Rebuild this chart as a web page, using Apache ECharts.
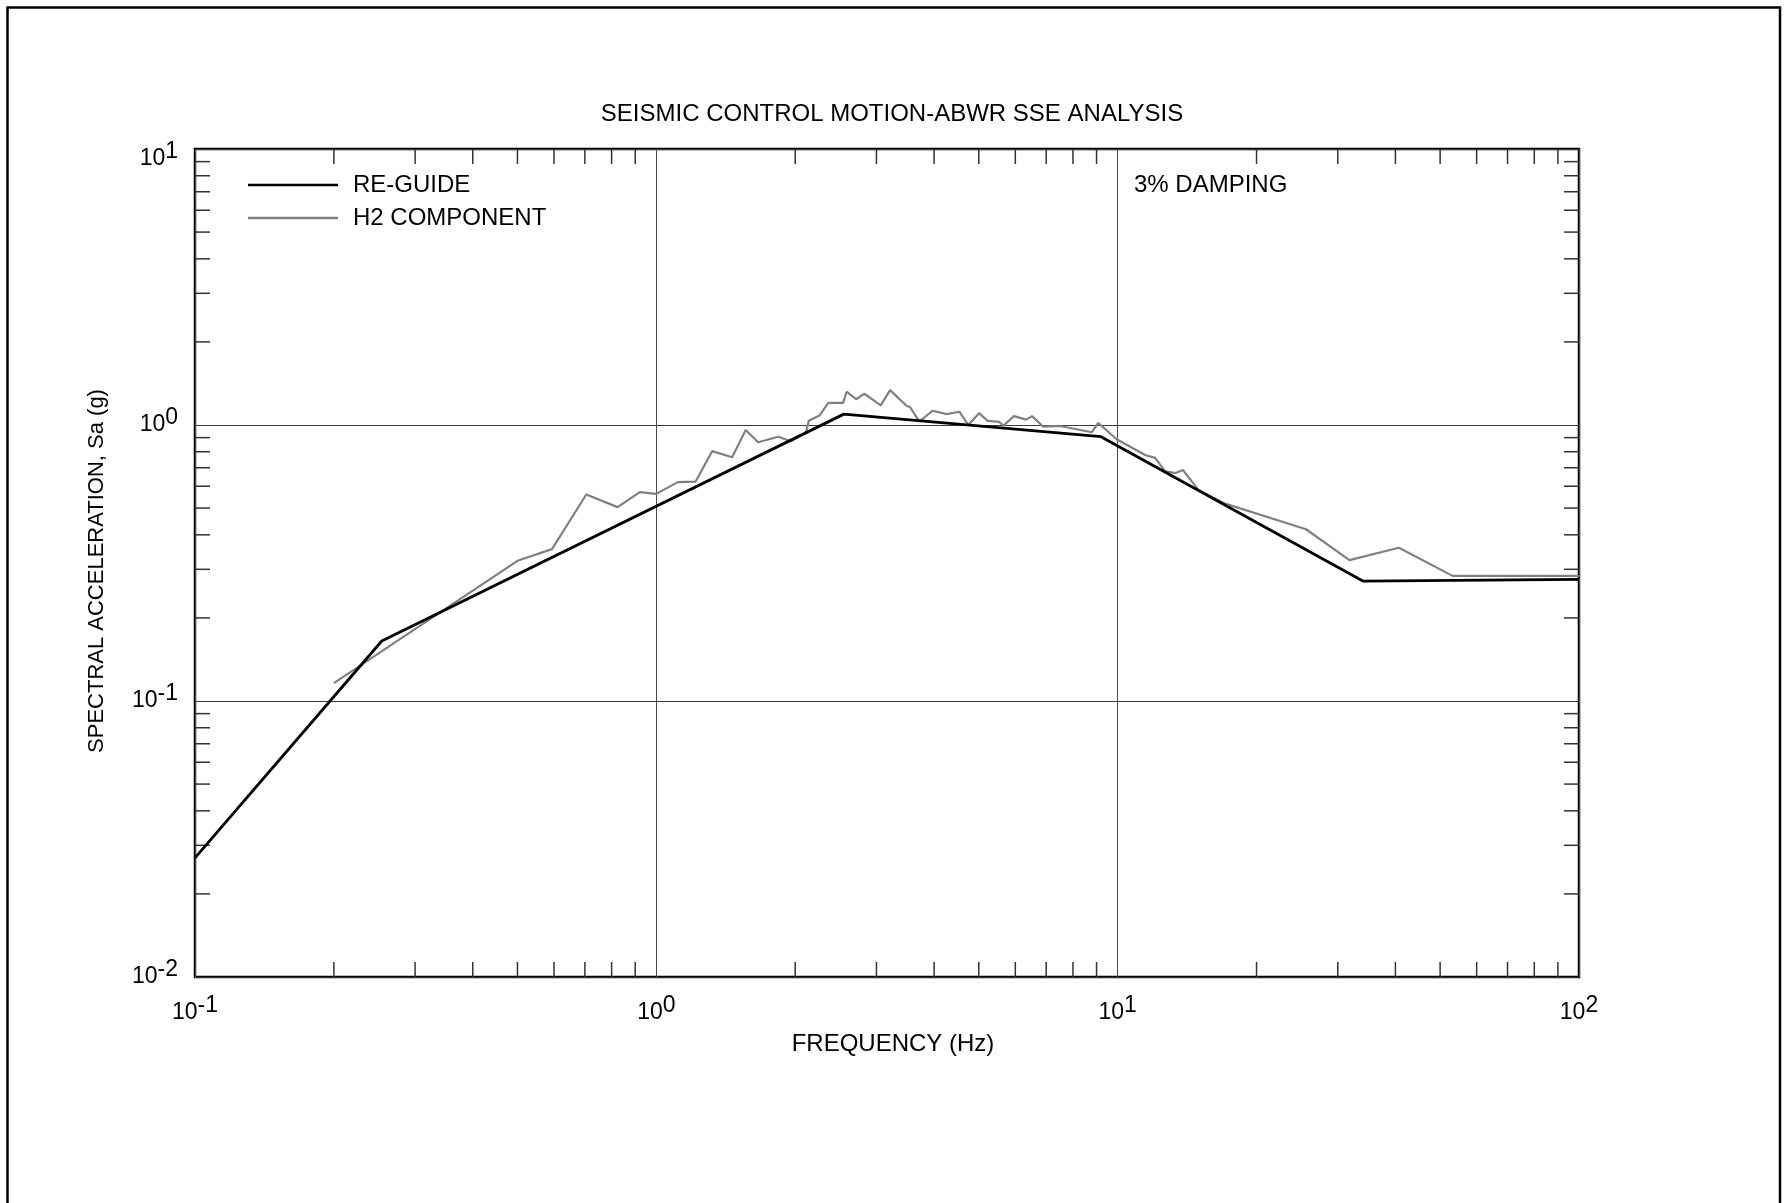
<!DOCTYPE html>
<html>
<head>
<meta charset="utf-8">
<title>Seismic Control Motion - ABWR SSE Analysis</title>
<script src="https://cdn.jsdelivr.net/npm/echarts@6/dist/echarts.min.js"></script>
<style>
  html, body { margin: 0; padding: 0; background: #fff; }
  #chart { width: 1784px; height: 1203px; }
</style>
</head>
<body>
<div id="chart"></div>
<script>
// ---- Spectrum data (3% damping): frequency in Hz, spectral acceleration in g ----
const reGuideFreq = [0.1, 0.254, 2.55, 9.2, 34, 100];
const reGuideSa   = [0.027, 0.165, 1.095, 0.907, 0.272, 0.276];

const h2Freq = [0.2, 0.5, 0.594, 0.705, 0.824, 0.921, 1.0, 1.113, 1.217, 1.321,
                1.46, 1.562, 1.662, 1.838, 1.956, 2.11, 2.14, 2.257, 2.359, 2.54,
                2.585, 2.71, 2.824, 3.065, 3.211, 3.489, 3.548, 3.717, 3.966, 4.261,
                4.538, 4.746, 5.006, 5.228, 5.539, 5.65, 5.96, 6.33, 6.52, 6.90,
                7.50, 8.785, 9.08, 9.95, 11.47, 12.05, 12.67, 13.32, 13.85, 14.96,
                17.1, 25.6, 31.8, 40.7, 53.2, 100];
const h2Sa   = [0.116, 0.322, 0.355, 0.56, 0.504, 0.571, 0.563, 0.621, 0.624, 0.804,
                0.764, 0.959, 0.866, 0.907, 0.873, 0.94, 1.037, 1.082, 1.202, 1.202,
                1.32, 1.24, 1.298, 1.178, 1.338, 1.172, 1.162, 1.028, 1.126, 1.095,
                1.117, 1.0, 1.104, 1.035, 1.026, 0.994, 1.077, 1.046, 1.077, 0.986,
                0.992, 0.941, 1.017, 0.888, 0.779, 0.760, 0.681, 0.669, 0.687, 0.582,
                0.519, 0.419, 0.324, 0.359, 0.284, 0.284];

// ---- Axis ranges and minor (2..9 per decade) tick values ----
const freqRange = [0.1, 100];
const saRange   = [0.01, 10];
const freqMinorTicks = [0.2, 0.3, 0.4, 0.5, 0.6, 0.7, 0.8, 0.9,
                        2, 3, 4, 5, 6, 7, 8, 9,
                        20, 30, 40, 50, 60, 70, 80, 90];
const saMinorTicks   = [0.02, 0.03, 0.04, 0.05, 0.06, 0.07, 0.08, 0.09,
                        0.2, 0.3, 0.4, 0.5, 0.6, 0.7, 0.8, 0.9,
                        2, 3, 4, 5, 6, 7, 8, 9];

const seriesNames = ['RE-GUIDE', 'H2 COMPONENT'];
const seriesColors = ['#000000', '#808080'];
const titleText = 'SEISMIC CONTROL MOTION-ABWR SSE ANALYSIS';
const noteText = '3% DAMPING';
const xName = 'FREQUENCY (Hz)';
const yName = 'SPECTRAL ACCELERATION, Sa (g)';

// ---- Styling ----
const FONT = '"Liberation Sans", Arial, Helvetica, sans-serif';
const TICK_LEN = 15;
const TICK_COLOR = '#333';
const LABEL_SIZE = 23;

const pairs = (xs, ys) => xs.map((x, i) => [x, ys[i]]);

// Power-of-ten labels: "10" with a raised exponent of the same size
const powerRich = {
  b:  { fontSize: LABEL_SIZE, fontFamily: FONT, color: '#000' },
  s:  { fontSize: LABEL_SIZE, fontFamily: FONT, color: '#000', padding: [0, 0, 14, 0] },
  bt: { fontSize: LABEL_SIZE, fontFamily: FONT, color: '#000', padding: [20, 0, 0, 0] },
  st: { fontSize: LABEL_SIZE, fontFamily: FONT, color: '#000', padding: [20, 0, 14, 0] }
};
function powerLabel(v) {
  const e = Math.round(Math.log10(v));
  return '{b|10}{s|' + e + '}';
}
function powerLabelY(v) {
  const e = Math.round(Math.log10(v));
  // the top label sits a little below the upper frame edge
  if (v >= saRange[1]) return '{bt|10}{st|' + e + '}';
  return '{b|10}{s|' + e + '}';
}

function renderFreqTick(params, api) {
  const cs = params.coordSys;
  const x = api.coord([api.value(0), 1])[0];
  const yb = cs.y + cs.height;
  const style = { stroke: TICK_COLOR, lineWidth: 1.5 };
  return {
    type: 'group',
    children: [
      { type: 'line', shape: { x1: x, y1: yb, x2: x, y2: yb - TICK_LEN }, style: style },
      { type: 'line', shape: { x1: x, y1: cs.y, x2: x, y2: cs.y + TICK_LEN }, style: style }
    ]
  };
}
function renderSaTick(params, api) {
  const cs = params.coordSys;
  const y = api.coord([1, api.value(1)])[1];
  const xr = cs.x + cs.width;
  const style = { stroke: TICK_COLOR, lineWidth: 1.5 };
  return {
    type: 'group',
    children: [
      { type: 'line', shape: { x1: cs.x, y1: y, x2: cs.x + TICK_LEN, y2: y }, style: style },
      { type: 'line', shape: { x1: xr, y1: y, x2: xr - TICK_LEN, y2: y }, style: style }
    ]
  };
}

const chart = echarts.init(document.getElementById('chart'), null, { renderer: 'canvas' });

chart.setOption({
  backgroundColor: '#fff',
  animation: false,
  textStyle: { fontFamily: FONT, color: '#000' },
  title: [
    {
      text: titleText, left: 'center', top: 102, padding: 0,
      textStyle: { fontSize: 24, fontWeight: 'normal', fontFamily: FONT, color: '#000' }
    },
    {
      text: noteText, left: 1134, top: 173, padding: 0,
      textStyle: { fontSize: 24, fontWeight: 'normal', fontFamily: FONT, color: '#000' }
    }
  ],
  legend: {
    data: seriesNames,
    orient: 'vertical',
    left: 248, top: 173, padding: 0,
    icon: 'rect',
    itemWidth: 90, itemHeight: 2.5, itemGap: 9,
    textStyle: { fontSize: 24, fontFamily: FONT, color: '#000', lineHeight: 24, padding: [0, 0, 0, 10] }
  },
  grid: {
    left: 195, right: 205, top: 149, bottom: 226,
    show: true, borderColor: '#000', borderWidth: 2.5, backgroundColor: 'transparent',
    containLabel: false, outerBoundsMode: 'none'
  },
  xAxis: {
    type: 'log', logBase: 10, min: freqRange[0], max: freqRange[1],
    axisLine: { show: false }, axisTick: { show: false },
    minorTick: { show: false },
    splitLine: { show: true, lineStyle: { color: '#4a4a4a', width: 1, type: 'solid' } },
    axisLabel: { formatter: powerLabel, rich: powerRich, margin: 17, color: '#000' },
    name: xName, nameLocation: 'middle', nameGap: 55,
    nameTextStyle: { fontSize: 24, fontFamily: FONT, color: '#000', padding: [0, 0, 0, 12] }
  },
  yAxis: {
    type: 'log', logBase: 10, min: saRange[0], max: saRange[1],
    axisLine: { show: false }, axisTick: { show: false },
    minorTick: { show: false },
    splitLine: { show: true, lineStyle: { color: '#3a3a3a', width: 1, type: 'solid' } },
    axisLabel: { formatter: powerLabelY, rich: powerRich, margin: 17, color: '#000' },
    name: yName, nameLocation: 'middle', nameGap: 87,
    nameTextStyle: { fontSize: 22, fontFamily: FONT, color: '#000', padding: [0, 16, 0, 0] }
  },
  series: [
    {
      name: seriesNames[0], type: 'line', symbol: 'none', z: 4,
      lineStyle: { color: seriesColors[0], width: 2.8 }, itemStyle: { color: seriesColors[0] },
      data: pairs(reGuideFreq, reGuideSa)
    },
    {
      name: seriesNames[1], type: 'line', symbol: 'none', z: 3,
      lineStyle: { color: seriesColors[1], width: 2.2 }, itemStyle: { color: seriesColors[1] },
      data: pairs(h2Freq, h2Sa)
    },
    {
      name: 'freq-minor-ticks', type: 'custom', silent: true, z: 2,
      renderItem: renderFreqTick, encode: { x: 0, y: 1 },
      data: freqMinorTicks.map(v => [v, 1])
    },
    {
      name: 'sa-minor-ticks', type: 'custom', silent: true, z: 2,
      renderItem: renderSaTick, encode: { x: 0, y: 1 },
      data: saMinorTicks.map(v => [1, v])
    }
  ],
  graphic: [
    {
      type: 'polyline', silent: true,
      shape: { points: [[7.5, 1203], [7.5, 7.5], [1780, 7.5], [1780, 1203]] },
      style: { stroke: '#000', lineWidth: 2.5, fill: null }
    }
  ]
});
</script>
</body>
</html>
